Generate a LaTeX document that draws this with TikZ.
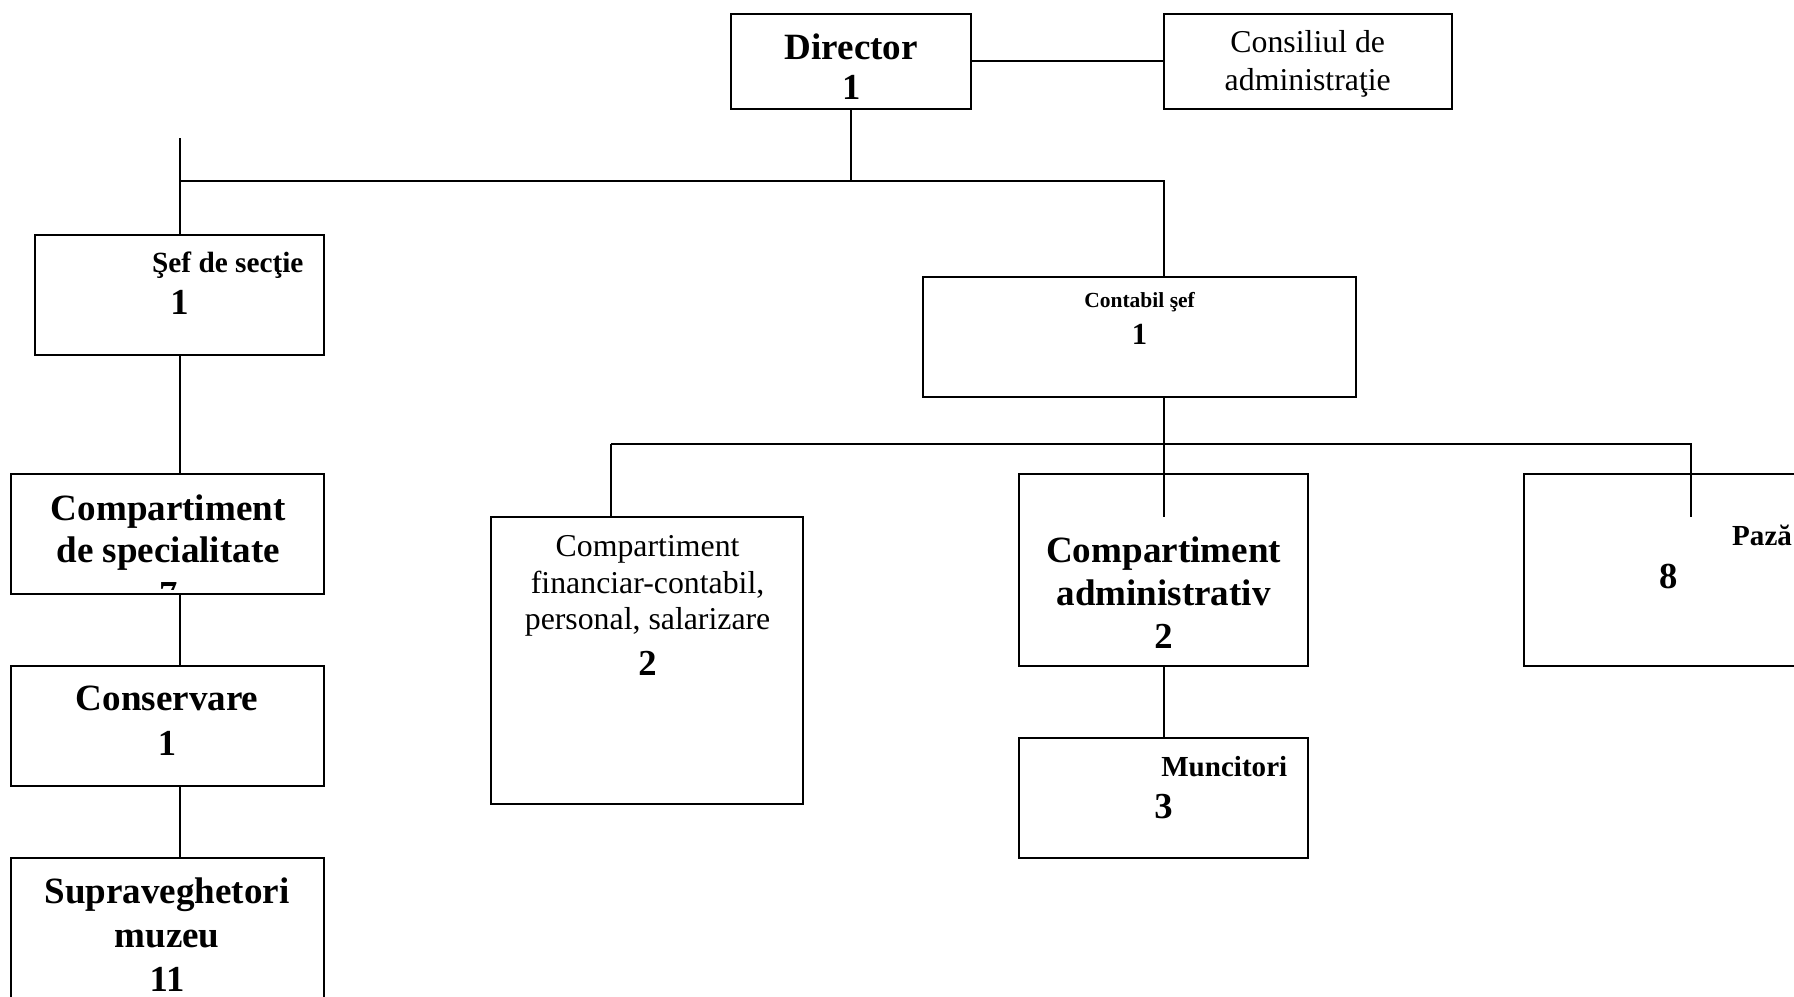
\documentclass[tikz,border=0pt]{standalone}
\usepackage{fontspec}
\setmainfont{Liberation Serif}
\usetikzlibrary{fit}
\begin{document}
\begin{tikzpicture}[x=0.5pt,y=-0.5pt,line width=0.85pt,
  box/.style={draw,inner sep=0pt,outer sep=0pt},
  txt/.style={anchor=base,inner sep=0pt,outer sep=0pt},
  big/.style={txt,font=\bfseries\fontsize{16.2}{19}\selectfont},
  reg/.style={txt,font=\fontsize{13.9}{16}\selectfont},
  mid/.style={txt,font=\bfseries\fontsize{12.8}{15}\selectfont},
  sml/.style={txt,font=\bfseries\fontsize{9.4}{11}\selectfont},
  num/.style={txt,font=\bfseries\fontsize{16}{19}\selectfont}]
\clip (0,0) rectangle (1568,871);
\useasboundingbox (0,0) rectangle (1568,871);
\fill[white] (0,0) rectangle (1568,871);
% boxes
\node[box,fit={(639,12) (849,95)}] (dir) {};
\node[box,fit={(1017,12) (1269,95)}] (cons) {};
\node[box,fit={(31,205) (283,310)}] (sef) {};
\node[box,fit={(10,414) (283,519)}] (spec) {};
\node[box,fit={(10,582) (283,687)}] (consv) {};
\node[box,fit={(10,750) (283,905)}] (sup) {};
\node[box,fit={(807,242) (1185,347)}] (cont) {};
\node[box,fit={(429,452) (702,703)}] (fin) {};
\node[box,fit={(891,414) (1143,582)}] (adm) {};
\node[box,fit={(891,645) (1143,750)}] (munc) {};
\node[box,fit={(1332,414) (1640,582)}] (paza) {};
% coordinates
\coordinate (busTop) at (157,121);
\coordinate (busL) at (157,158);
\coordinate (busR) at (1017,158);
\coordinate (b2L) at (534,388);
\coordinate (b2R) at (1478,388);
\coordinate (admEnd) at (1017,452);
\coordinate (pazEnd) at (1478,452);
% connectors
\draw (dir.east) -- (cons.west);
\draw (dir.south) -- (dir.south |- busL);
\draw (busTop) -- (sef.north);
\draw (busL) -- (busR) -- (busR |- cont.north);
\draw (sef.south) -- (sef.south |- spec.north);
\draw (sef.south |- spec.south) -- (sef.south |- consv.north);
\draw (sef.south |- consv.south) -- (sef.south |- sup.north);
\draw (busR |- cont.south) -- (admEnd);
\draw (b2L) -- (b2R) -- (pazEnd);
\draw (b2L) -- (b2L |- fin.north);
\draw (adm.south) -- (munc.north);
% texts
\node[big] (tdir) at (744,52) {Director};
\node[num] (tdir1) at (744,87) {1};
\node[reg] (tcons1) at (1143,46) {Consiliul de};
\node[reg] (tcons2) at (1143,79) {administraţie};
\node[mid,anchor=base west] (tsef) at (133,238) {Şef de secţie};
\node[num] (tsef1) at (157,275) {1};
\node[big] (tspec1) at (147,455) {Compartiment};
\node[big] (tspec2) at (147,492) {de specialitate};
\begin{scope}
\clip (10,414) rectangle (283,515);
\node[num] (tspec3) at (147,530) {7};
\end{scope}
\node[big] (tconsv) at (146,621) {Conservare};
\node[num] (tconsv1) at (146,660) {1};
\node[big] (tsup1) at (146,790) {Supraveghetori};
\node[big] (tsup2) at (146,828) {muzeu};
\node[num] (tsup3) at (146,867) {11};
\node[sml] (tcont) at (996,269) {Contabil şef};
\node[num,font=\bfseries\fontsize{13.4}{16}\selectfont] (tcont1) at (996,301) {1};
\node[reg] (tfin1) at (566,486) {Compartiment};
\node[reg] (tfin2) at (566,519) {financiar-contabil,};
\node[reg] (tfin3) at (566,550) {personal, salarizare};
\node[num] (tfin4) at (566,590) {2};
\node[big] (tadm1) at (1017,492) {Compartiment};
\node[big] (tadm2) at (1017,529) {administrativ};
\node[num] (tadm3) at (1017,567) {2};
\node[mid,font=\bfseries\fontsize{12.7}{15}\selectfont,anchor=base west] (tmunc) at (1015,679) {Muncitori};
\node[num] (tmunc1) at (1017,715) {3};
\node[mid,font=\bfseries\fontsize{12.7}{15}\selectfont,anchor=base west] (tpaza) at (1514,477) {Pază};
\node[num] (tpaza1) at (1458,514) {8};
\end{tikzpicture}
\end{document}
